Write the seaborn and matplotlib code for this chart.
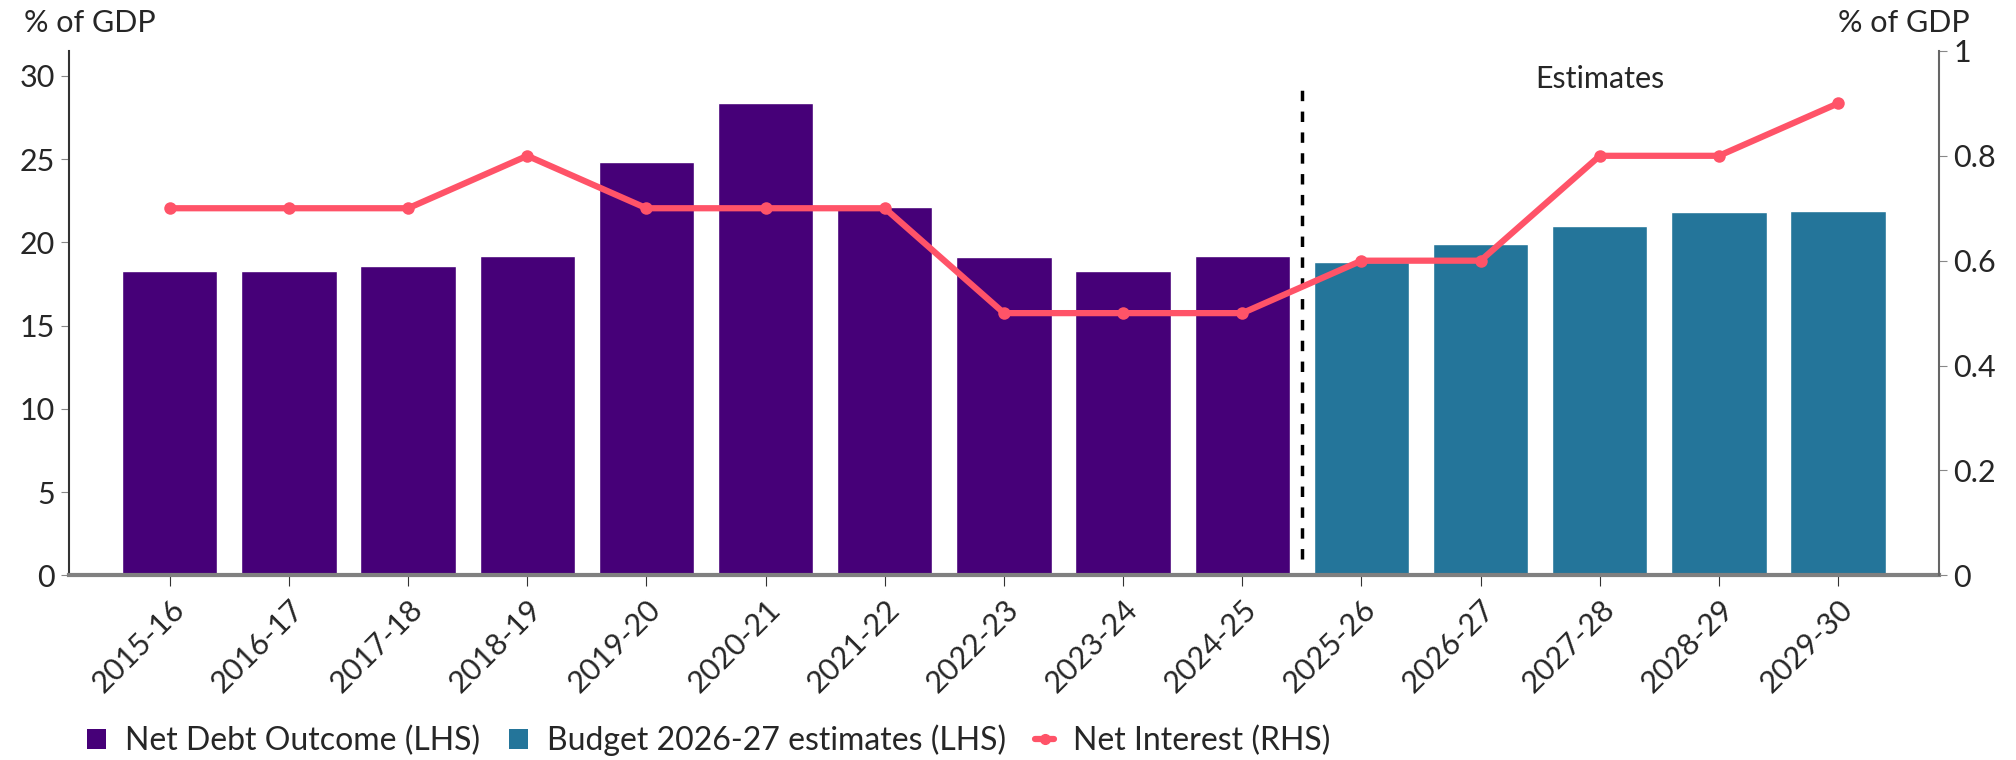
import matplotlib
matplotlib.use("Agg")
import matplotlib.pyplot as plt
import matplotlib.ticker as mticker
from matplotlib.lines import Line2D
from matplotlib.patches import Patch
import numpy as np
import pandas as pd
import seaborn as sns

years = ['2015-16', '2016-17', '2017-18', '2018-19', '2019-20', '2020-21', '2021-22',
         '2022-23', '2023-24', '2024-25', '2025-26', '2026-27', '2027-28', '2028-29', '2029-30']
net_debt = [18.3, 18.3, 18.6, 19.2, 24.8, 28.4, 22.1, 19.1, 18.3, 19.2,
            18.8, 19.9, 21.0, 21.8, 21.9]
series = ['Net Debt Outcome (LHS)'] * 10 + ['Budget 2026-27 estimates (LHS)'] * 5
net_interest = [0.7, 0.7, 0.7, 0.8, 0.7, 0.7, 0.7, 0.5, 0.5, 0.5, 0.6, 0.6, 0.8, 0.8, 0.9]

PURPLE = '#460078'
TEAL = '#24759a'
RED = '#ff5368'
FS = 22

df = pd.DataFrame({'year': years, 'debt': net_debt, 'series': series,
                   'interest': net_interest, 'pos': np.arange(len(years))})

sns.set_style('white')
plt.rcParams['font.family'] = ['Lato', 'DejaVu Sans']

fig = plt.figure(figsize=(20.16, 7.6), dpi=100)
ax = fig.add_axes([0.034, 0.243, 0.928, 0.690])

sns.barplot(data=df, x='year', y='debt', hue='series', dodge=False, width=0.8,
            palette={series[0]: PURPLE, series[-1]: TEAL}, saturation=1,
            legend=False, ax=ax)
ax.set_xlim(-0.85, len(years) - 0.15)
ax.set_ylim(0, 31.5)
ax.set_yticks(range(0, 31, 5))
ax.set_xlabel('')
ax.set_ylabel('')

# forecast divider
ax.vlines(9.5, 1, 29.4, colors='black', linestyles=(0, (3, 3)), linewidth=2.5, zorder=4)
ax.text(12.0, 29.0, 'Estimates', ha='center', va='bottom', fontsize=FS)

ax2 = ax.twinx()
sns.lineplot(data=df, x='pos', y='interest', color=RED, linewidth=4.5, marker='o',
             markersize=9, markeredgewidth=0, ax=ax2)
ax2.set_ylim(0, 1)
ax2.set_yticks([0, 0.2, 0.4, 0.6, 0.8, 1.0])
ax2.yaxis.set_major_formatter(mticker.FuncFormatter(lambda v, p: f'{v:g}'))
ax2.set_xlim(-0.85, len(years) - 0.15)
ax2.set_ylabel('')
ax2.set_xlabel('')

for a in (ax, ax2):
    a.spines['top'].set_visible(False)
ax.spines['right'].set_visible(False)
ax.spines['left'].set_color('#333333')
ax.spines['left'].set_linewidth(1.5)
ax.spines['bottom'].set_color('#808080')
ax.spines['bottom'].set_linewidth(3)
ax2.spines['left'].set_visible(False)
ax2.spines['bottom'].set_visible(False)
ax2.spines['right'].set_color('#666666')
ax2.spines['right'].set_linewidth(1.5)

ax.tick_params(axis='y', left=True, length=6, color='#888888', labelsize=FS, pad=4)
ax.tick_params(axis='x', bottom=True, length=8, color='#333333', labelsize=FS, pad=6)
ax2.tick_params(axis='y', right=True, length=6, color='#888888', labelsize=FS, pad=4)
plt.setp(ax.get_xticklabels(), rotation=45, ha='right', rotation_mode='anchor')

fig.text(0.012, 0.988, '% of GDP', ha='left', va='top', fontsize=FS)
fig.text(0.977, 0.988, '% of GDP', ha='right', va='top', fontsize=FS)

handles = [Patch(facecolor=PURPLE, edgecolor='none'),
           Patch(facecolor=TEAL, edgecolor='none'),
           Line2D([], [], color=RED, linewidth=4.5, marker='o', markersize=7)]
labels = [series[0], series[-1], 'Net Interest (RHS)']
fig.legend(handles, labels, loc='center left', bbox_to_anchor=(0.043, 0.026), ncol=3,
           frameon=False, fontsize=FS + 1, handlelength=0.6, handleheight=0.6,
           handletextpad=0.6, columnspacing=0.9, borderaxespad=0, borderpad=0)

fig.savefig('out.png', dpi=100)
